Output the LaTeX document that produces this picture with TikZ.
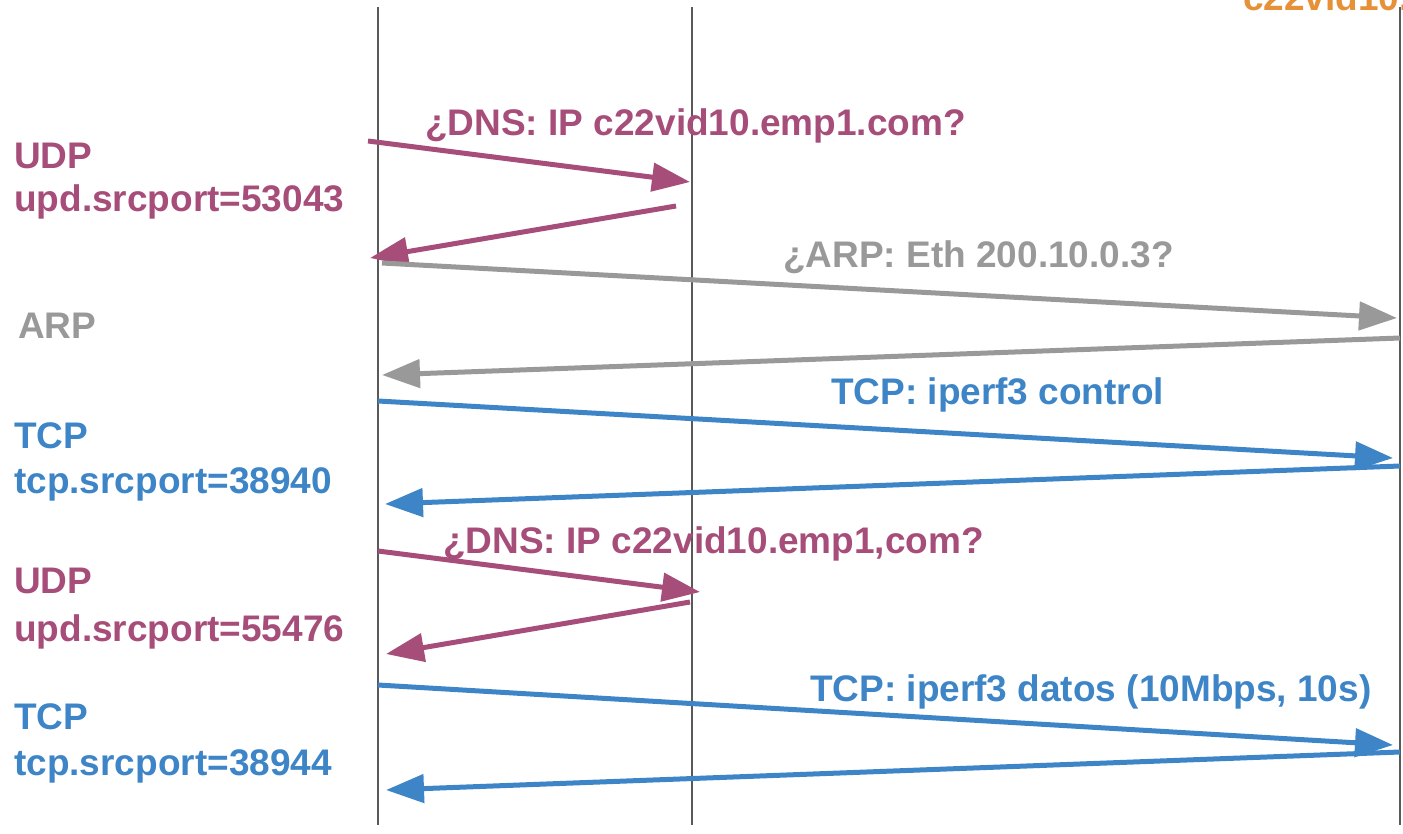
\documentclass[tikz,border=0pt]{standalone}
\usepackage{fontspec}
\setmainfont{Liberation Sans}
\usetikzlibrary{arrows.meta}
\definecolor{dnscol}{HTML}{A64D79}
\definecolor{arpcol}{HTML}{999999}
\definecolor{tcpcol}{HTML}{3D85C6}
\definecolor{hostcol}{HTML}{E69138}
\definecolor{lifecol}{HTML}{595959}
\tikzset{
  lbl/.style={anchor=base west, inner sep=0pt, font=\fontsize{37}{44}\selectfont\bfseries},
  lifeline/.style={draw=lifecol, line width=2pt},
  msg/.style={line width=5pt, -{Triangle[length=38pt,width=28pt]}},
}
\begin{document}
\begin{tikzpicture}[x=1pt,y=-1pt]
\useasboundingbox (0,0) rectangle (1403,833);
\clip (0,0) rectangle (1403,833);

% lifelines
\coordinate (cT) at (378,7);   \coordinate (cB) at (378,825);
\coordinate (dT) at (692,7);   \coordinate (dB) at (692,825);
\coordinate (sT) at (1400,7);  \coordinate (sB) at (1400,825);
\draw[lifeline] (cT) -- (cB);
\draw[lifeline] (dT) -- (dB);
\draw[lifeline] (sT) -- (sB);

% server name
\node[lbl, text=hostcol] (host) at (1243,10) {c22vid10.emp1.com};

% left-side protocol labels
\node[lbl, text=dnscol] (udp1) at (14,168) {UDP};
\node[lbl, text=dnscol] (udp1p) at (14,211) {upd.srcport=53043};
\node[lbl, text=arpcol] (arp) at (18,338) {ARP};
\node[lbl, text=tcpcol] (tcp1) at (14,448) {TCP};
\node[lbl, text=tcpcol] (tcp1p) at (14,493) {tcp.srcport=38940};
\node[lbl, text=dnscol] (udp2) at (14,593) {UDP};
\node[lbl, text=dnscol] (udp2p) at (14,641) {upd.srcport=55476};
\node[lbl, text=tcpcol] (tcp2) at (14,729) {TCP};
\node[lbl, text=tcpcol] (tcp2p) at (14,775) {tcp.srcport=38944};

% message labels
\node[lbl, text=dnscol] (m1) at (425,135) {¿DNS: IP c22vid10.emp1.com?};
\node[lbl, text=arpcol] (m3) at (783,267) {¿ARP: Eth 200.10.0.3?};
\node[lbl, text=tcpcol] (m5) at (831,404) {TCP: iperf3 control};
\node[lbl, text=dnscol] (m7) at (443,553) {¿DNS: IP c22vid10.emp1,com?};
\node[lbl, text=tcpcol] (m9) at (810,701) {TCP: iperf3 datos (10Mbps, 10s)};

% message end points
\coordinate (a1s) at (368,141);  \coordinate (a1e) at (690,182);
\coordinate (a2s) at (676,206);  \coordinate (a2e) at (370,258);
\coordinate (a3s) at (382,263);  \coordinate (a3e) at (1397,318);
\coordinate (a4s) at (1400,338); \coordinate (a4e) at (382,375);
\coordinate (a5s) at (378,401);  \coordinate (a5e) at (1393,458);
\coordinate (a6s) at (1400,466); \coordinate (a6e) at (385,504);
\coordinate (a7s) at (378,551);  \coordinate (a7e) at (700,592);
\coordinate (a8s) at (690,602);  \coordinate (a8e) at (386,654);
\coordinate (a9s) at (378,685);  \coordinate (a9e) at (1393,745);
\coordinate (a10s) at (1400,752); \coordinate (a10e) at (386,790);

% messages
\draw[msg, dnscol] (a1s) -- (a1e);
\draw[msg, dnscol] (a2s) -- (a2e);
\draw[msg, arpcol] (a3s) -- (a3e);
\draw[msg, arpcol] (a4s) -- (a4e);
\draw[msg, tcpcol] (a5s) -- (a5e);
\draw[msg, tcpcol] (a6s) -- (a6e);
\draw[msg, dnscol] (a7s) -- (a7e);
\draw[msg, dnscol] (a8s) -- (a8e);
\draw[msg, tcpcol] (a9s) -- (a9e);
\draw[msg, tcpcol] (a10s) -- (a10e);
\end{tikzpicture}
\end{document}
